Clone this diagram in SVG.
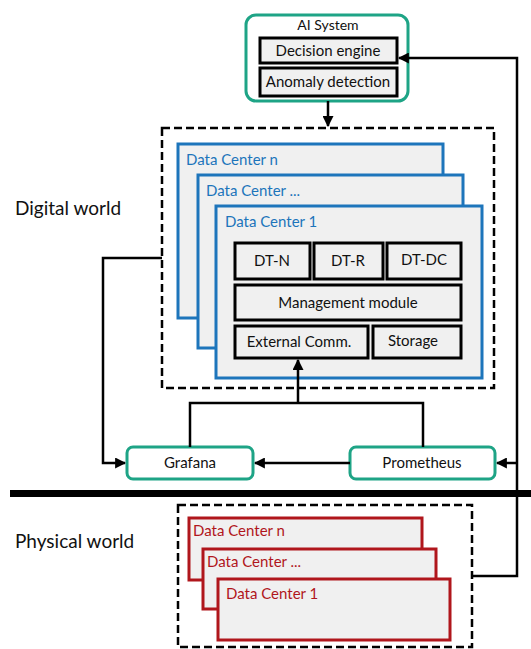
<svg xmlns="http://www.w3.org/2000/svg" width="531" height="649" viewBox="0 0 531 649">
  <defs>
    <marker id="arrow" viewBox="0 0 10 10" refX="9" refY="5" markerWidth="4.4" markerHeight="4.4" orient="auto-start-reverse">
      <path d="M0,0 L10,5 L0,10 z" fill="#000"/>
    </marker>
    <style>
      text { font-family: "Lato", "Open Sans", "Liberation Sans", sans-serif; fill: #111; }
      .green { fill: #fff; stroke: #1ea486; stroke-width: 3; }
      .inner { fill: #f0f0f0; stroke: #000; stroke-width: 3; }
      .blue { fill: #f0f0f0; stroke: #1d75bb; stroke-width: 3; }
      .red { fill: #f0f0f0; stroke: #b0161c; stroke-width: 3; }
      .dash { fill: none; stroke: #000; stroke-width: 2.5; stroke-dasharray: 8 4; }
      .wire { fill: none; stroke: #000; stroke-width: 2.5; }
      .lbl { font-size: 15px; text-anchor: middle; }
      .blt { font-size: 15px; fill: #1d75bb; }
      .rlt { font-size: 15px; fill: #b0161c; }
      .world { font-size: 19px; }
    </style>
  </defs>

  <!-- world labels and divider -->
  <text class="world" x="15" y="215">Digital world</text>
  <text class="world" x="15" y="548">Physical world</text>
  <rect x="10" y="490" width="521" height="7" fill="#000"/>

  <!-- AI system -->
  <g id="ai-system">
    <rect class="green" x="246" y="15" width="162" height="86" rx="10"/>
    <text class="lbl" x="328" y="30" style="font-size:14px">AI System</text>
    <rect class="inner" x="260" y="38" width="137" height="25"/>
    <text class="lbl" x="328" y="56">Decision engine</text>
    <rect class="inner" x="260" y="68" width="137" height="28"/>
    <text class="lbl" x="328" y="87">Anomaly detection</text>
  </g>

  <!-- digital twins -->
  <g id="digital-world">
    <rect class="dash" x="162" y="128" width="332" height="260"/>
    <rect class="blue" x="178" y="144" width="265" height="174"/>
    <text class="blt" x="186" y="165">Data Center n</text>
    <rect class="blue" x="198" y="175" width="265" height="173"/>
    <text class="blt" x="206" y="196">Data Center ...</text>
    <rect class="blue" x="216" y="206" width="266" height="172"/>
    <text class="blt" x="225" y="227">Data Center 1</text>
  </g>
  <g id="dt-n">
    <rect class="inner" x="235" y="243" width="75" height="36"/>
    <text class="lbl" x="272" y="266">DT-N</text>
  </g>
  <g id="dt-r">
    <rect class="inner" x="314" y="243" width="69" height="36"/>
    <text class="lbl" x="348" y="266">DT-R</text>
  </g>
  <g id="dt-dc">
    <rect class="inner" x="387" y="243" width="74" height="36"/>
    <text class="lbl" x="424" y="265">DT-DC</text>
  </g>
  <g id="management">
    <rect class="inner" x="235" y="285" width="226" height="35"/>
    <text class="lbl" x="348" y="308">Management module</text>
  </g>
  <g id="external-comm">
    <rect class="inner" x="235" y="326" width="133" height="32"/>
    <text class="lbl" x="299" y="347">External Comm.</text>
  </g>
  <g id="storage">
    <rect class="inner" x="373" y="326" width="88" height="32"/>
    <text class="lbl" x="413" y="346">Storage</text>
  </g>

  <!-- monitoring -->
  <g id="grafana">
    <rect class="green" x="127" y="447" width="126" height="32" rx="6"/>
    <text class="lbl" x="190" y="468">Grafana</text>
  </g>
  <g id="prometheus">
    <rect class="green" x="350" y="447" width="145" height="32" rx="6"/>
    <text class="lbl" x="422" y="468">Prometheus</text>
  </g>

  <!-- physical data centers -->
  <g id="physical-world">
    <rect class="dash" x="178" y="505" width="294" height="142"/>
    <rect class="red" x="189" y="518" width="233" height="62"/>
    <text class="rlt" x="193" y="536">Data Center n</text>
    <rect class="red" x="203" y="549" width="233" height="60"/>
    <text class="rlt" x="207" y="567">Data Center ...</text>
    <rect class="red" x="218" y="579" width="232" height="61"/>
    <text class="rlt" x="226" y="599">Data Center 1</text>
  </g>

  <!-- connectors -->
  <g id="connectors">
    <path class="wire" d="M328,101 V126" marker-end="url(#arrow)"/>
    <path class="wire" d="M472,576 H517 V58 H399" marker-end="url(#arrow)"/>
    <path class="wire" d="M517,463 H497" marker-end="url(#arrow)"/>
    <path class="wire" d="M350,463 H255" marker-end="url(#arrow)"/>
    <path class="wire" d="M162,258 H103 V463 H125" marker-end="url(#arrow)"/>
    <path class="wire" d="M190,447 V403 H423 V447"/>
    <path class="wire" d="M298,403 V360" marker-end="url(#arrow)"/>
  </g>
</svg>
